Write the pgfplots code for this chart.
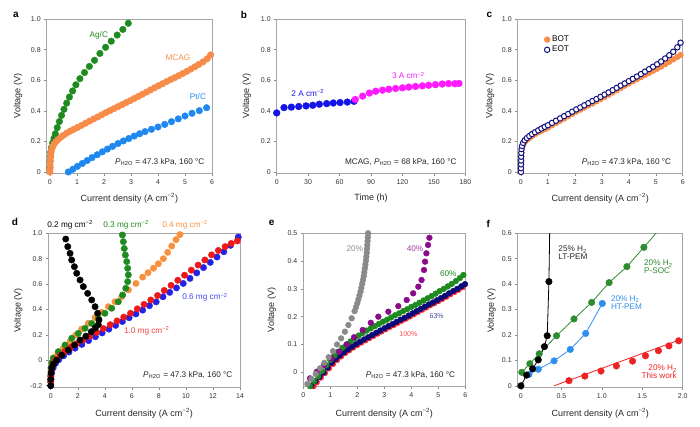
\documentclass[border=0pt]{standalone}
\usepackage{fontspec}
\setmainfont{Liberation Sans}
\usepackage{pgfplots}
\pgfplotsset{compat=1.18}

\definecolor{agc}{HTML}{1F8A1F}
\definecolor{mcag}{HTML}{F78C4A}
\definecolor{ptc}{HTML}{1E88F0}
\definecolor{bblue}{HTML}{1414E6}
\definecolor{bmag}{HTML}{FF1AFF}
\definecolor{cnavy}{HTML}{12127E}
\definecolor{dgreen}{HTML}{1F8A1F}
\definecolor{dorange}{HTML}{F7913D}
\definecolor{dblue}{HTML}{2222E8}
\definecolor{dred}{HTML}{EE1818}
\definecolor{egray}{HTML}{8A8A8A}
\definecolor{epurple}{HTML}{8A0A8A}
\definecolor{enavy}{HTML}{0A0A78}
\definecolor{ered}{HTML}{FF2A2A}
\definecolor{fgreen}{HTML}{2E8B2E}
\definecolor{fblue}{HTML}{2E8FF0}
\definecolor{fred}{HTML}{EE2222}

\newcommand{\cmm}{cm\textsuperscript{−2}}
\newcommand{\PH}{\textit{P}\textsubscript{H2O}}
\newcommand{\Ht}{H\textsubscript{2}}

\tikzset{ann/.style={font=\fontsize{8.2}{9}\selectfont}}
\pgfplotsset{
 panel/.style={
  scale only axis, anchor=south west,
  axis line style={draw=black!35, line width=0.5pt},
  major tick style={draw=black!45, line width=0.5pt},
  tick align=outside, major tick length=2.5pt,
  xtick pos=left, ytick pos=left,
  tick label style={font=\fontsize{7}{8}\selectfont, text=black!80},
  every axis label/.append style={font=\fontsize{9}{10}\selectfont, text=black!85},
  ylabel={Voltage (V)},
  xlabel={Current density (A \cmm)},
  clip mode=individual,
 },
 dots/.style={only marks, mark=*, mark size=#1, mark options={solid}},
}

\begin{document}
\begin{tikzpicture}
\path[use as bounding box] (0,0) rectangle (700pt,426pt);

% ---------------- panel a ----------------
\begin{axis}[panel, at={(46.7pt,252.7pt)}, width=165.3pt, height=154.3pt,
  xmin=-0.12, xmax=6, ymin=-0.0085, ymax=1.0,
  xtick={0,1,2,3,4,5,6}, xticklabels={0,1,2,3,4,5,6},
  ytick={0,0.2,0.4,0.6,0.8,1.0}, yticklabels={0,0.2,0.4,0.6,0.8,1.0},
  ylabel style={at={(axis description cs:-0.174,0.5)}, anchor=center},
  xlabel style={at={(axis description cs:0.5,-0.16)}, anchor=center}]
\addplot[dots=3.3pt, color=ptc] coordinates {
(0.68,0.0)(0.85,0.018)(1.02,0.037)(1.2,0.056)(1.38,0.075)(1.56,0.094)(1.75,0.113)(1.94,0.132)(2.13,0.15)(2.32,0.168)(2.52,0.186)(2.72,0.203)(2.92,0.219)(3.12,0.235)(3.32,0.25)(3.52,0.264)(3.76,0.279)(4.0,0.294)(4.25,0.311)(4.5,0.329)(4.75,0.347)(5.0,0.366)(5.26,0.384)(5.53,0.401)(5.8,0.42)};
\addplot[dots=3.3pt, color=agc] coordinates {
(0,0.03)(0.005,0.07)(0.015,0.1)(0.03,0.13)(0.06,0.16)(0.1,0.19)(0.15,0.22)(0.2,0.25)(0.27,0.29)(0.35,0.33)(0.43,0.37)(0.52,0.41)(0.62,0.45)(0.72,0.49)(0.84,0.53)(0.96,0.57)(1.11,0.61)(1.28,0.65)(1.46,0.69)(1.65,0.73)(1.85,0.775)(2.06,0.815)(2.27,0.855)(2.49,0.895)(2.7,0.932)(2.9,0.972)};
\addplot[dots=3.3pt, color=mcag] coordinates {
(0,0)(0,0.02)(0.005,0.045)(0.01,0.07)(0.02,0.095)(0.035,0.12)(0.06,0.145)(0.1,0.165)(0.15,0.182)(0.22,0.198)(0.3,0.212)(0.4,0.227)(0.5,0.24)(0.62,0.254)(0.75,0.267)(0.88,0.279)(1.02,0.291)(1.17,0.305)(1.32,0.319)(1.47,0.333)(1.62,0.347)(1.77,0.36)(1.92,0.374)(2.07,0.388)(2.22,0.401)(2.37,0.414)(2.52,0.427)(2.67,0.44)(2.82,0.453)(2.97,0.466)(3.12,0.48)(3.27,0.494)(3.42,0.508)(3.57,0.522)(3.72,0.536)(3.87,0.55)(4.02,0.564)(4.17,0.577)(4.32,0.591)(4.47,0.604)(4.62,0.617)(4.77,0.63)(4.92,0.644)(5.07,0.658)(5.22,0.673)(5.37,0.688)(5.52,0.704)(5.67,0.72)(5.82,0.74)(5.95,0.765)};
\node[ann, text=agc] at (axis cs:1.81,0.895) {Ag/C};
\node[ann, text=mcag] at (axis cs:4.74,0.75) {MCAG};
\node[ann, text=ptc] at (axis cs:5.48,0.49) {Pt/C};
\node[ann, text=black!85, anchor=east] at (axis cs:5.85,0.065) {\PH{} = 47.3 kPa, 160 °C};
\end{axis}

% ---------------- panel b ----------------
\begin{axis}[panel, at={(276.7pt,252.7pt)}, width=188.6pt, height=154.3pt,
  xmin=0, xmax=180, ymin=-0.0085, ymax=1.0,
  xlabel={Time (h)},
  xtick={0,30,60,90,120,150,180}, xticklabels={0,30,60,90,120,150,180},
  ytick={0,0.2,0.4,0.6,0.8,1.0}, yticklabels={0,0.2,0.4,0.6,0.8,1.0},
  ylabel style={at={(axis description cs:-0.159,0.5)}, anchor=center},
  xlabel style={at={(axis description cs:0.5,-0.16)}, anchor=center}]
\addplot[dots=3.4pt, color=bblue] coordinates {
(0,0.386)(7,0.421)(14,0.424)(21,0.428)(28,0.432)(34.4,0.436)(40.7,0.443)(47.7,0.447)(54,0.451)(60.5,0.454)(67.4,0.457)(73.8,0.462)};
\addplot[dots=3.4pt, color=bmag] coordinates {
(75,0.474)(82,0.496)(88.5,0.516)(94.5,0.528)(101,0.535)(107,0.541)(113.5,0.546)(120,0.55)(126,0.555)(132.5,0.559)(139,0.563)(145,0.567)(151.5,0.571)(158,0.575)(164,0.578)(170,0.577)(174,0.579)};
\node[ann, text=bblue] at (axis cs:29.6,0.514) {2 A \cmm};
\node[ann, text=bmag] at (axis cs:125.6,0.63) {3 A \cmm};
\node[ann, text=black!85, anchor=east] at (axis cs:175,0.067) {MCAG, \PH{} = 68 kPa, 160 °C};
\end{axis}

% ---------------- panel c ----------------
\begin{axis}[panel, at={(517.7pt,252.7pt)}, width=165pt, height=154.3pt,
  xmin=-0.12, xmax=6, ymin=-0.0085, ymax=1.0,
  xtick={0,1,2,3,4,5,6}, xticklabels={0,1,2,3,4,5,6},
  ytick={0,0.2,0.4,0.6,0.8,1.0}, yticklabels={0,0.2,0.4,0.6,0.8,1.0},
  ylabel style={at={(axis description cs:-0.168,0.5)}, anchor=center},
  xlabel style={at={(axis description cs:0.5,-0.16)}, anchor=center},
  legend style={at={(axis cs:0.82,0.91)}, anchor=north west, draw=none, fill=none,
    font=\fontsize{8.2}{9}\selectfont, row sep=-1pt, inner sep=1pt},
  legend image code/.code={\draw[mark repeat=2,mark phase=2,#1] plot coordinates {(0cm,0cm)(0.13cm,0cm)(0.26cm,0cm)};},
  legend cell align=left]
\addplot[dots=2.9pt, color=mcag] coordinates {
(0,0)(0,0.025)(0.003,0.05)(0.006,0.075)(0.01,0.1)(0.018,0.125)(0.03,0.15)(0.06,0.17)(0.1,0.185)(0.16,0.2)(0.24,0.213)(0.33,0.225)(0.43,0.237)(0.54,0.249)(0.65,0.26)(0.77,0.27)(0.88,0.28)
(1.0,0.290)(1.15,0.305)(1.3,0.320)(1.45,0.335)(1.6,0.349)(1.75,0.364)(1.9,0.379)(2.05,0.394)(2.2,0.407)(2.35,0.421)(2.5,0.435)(2.65,0.448)(2.8,0.462)(2.95,0.476)(3.1,0.490)(3.25,0.505)(3.4,0.520)(3.55,0.534)(3.7,0.549)(3.85,0.564)(4.0,0.579)(4.15,0.593)(4.3,0.606)(4.45,0.620)(4.6,0.634)(4.75,0.647)(4.9,0.661)(5.05,0.675)(5.2,0.689)(5.35,0.704)(5.5,0.720)(5.65,0.736)(5.8,0.752)(5.92,0.765)};
\addlegendentry{BOT}
\addplot[only marks, mark=*, mark size=2.7pt, mark options={solid, draw=cnavy, fill=white, line width=1pt}] coordinates {
(0,0)(0,0.025)(0.002,0.05)(0.005,0.075)(0.008,0.1)(0.013,0.125)(0.022,0.15)(0.04,0.17)(0.08,0.19)(0.14,0.207)(0.22,0.222)(0.31,0.235)(0.41,0.248)(0.52,0.26)(0.64,0.272)(0.76,0.284)(0.88,0.295)
(1.0,0.306)(1.15,0.321)(1.3,0.335)(1.45,0.350)(1.6,0.365)(1.75,0.379)(1.9,0.394)(2.05,0.409)(2.2,0.422)(2.35,0.436)(2.5,0.450)(2.65,0.464)(2.8,0.477)(2.95,0.491)(3.1,0.506)(3.25,0.520)(3.4,0.535)(3.55,0.550)(3.7,0.565)(3.85,0.579)(4.0,0.594)(4.15,0.609)(4.3,0.624)(4.45,0.640)(4.6,0.656)(4.75,0.672)(4.9,0.688)(5.05,0.704)(5.2,0.722)(5.35,0.742)(5.5,0.763)(5.65,0.786)(5.8,0.815)(5.92,0.845)};
\addlegendentry{EOT}
\node[ann, text=black!85, anchor=east] at (axis cs:5.7,0.065) {\PH{} = 47.3 kPa, 160 °C};
\end{axis}

% ---------------- panel d ----------------
\begin{axis}[panel, at={(48.3pt,38.7pt)}, width=191.7pt, height=154pt,
  xmin=-0.18, xmax=14, ymin=-0.213, ymax=1.0,
  xtick={0,2,4,6,8,10,12,14}, xticklabels={0,2,4,6,8,10,12,14},
  ytick={-0.2,0,0.2,0.4,0.6,0.8,1.0}, yticklabels={-0.2,0,0.2,0.4,0.6,0.8,1.0},
  ylabel style={at={(axis description cs:-0.156,0.5)}, anchor=center},
  xlabel style={at={(axis description cs:0.5,-0.167)}, anchor=center}]
\addplot[dots=3.2pt, color=dorange] coordinates {
(0,-0.15)(0.02,-0.08)(0.07,-0.02)(0.2,0.02)(0.52,0.05)(0.93,0.094)(1.43,0.146)(1.85,0.199)(2.29,0.246)(2.78,0.291)(3.28,0.336)(3.77,0.378)(4.26,0.422)(4.76,0.461)(5.25,0.501)(5.74,0.554)(6.3,0.605)(6.8,0.655)(7.2,0.69)(7.6,0.725)(7.96,0.76)(8.33,0.8)(8.65,0.85)(8.95,0.9)(9.27,0.95)(9.56,0.99)};
\addplot[dots=3.2pt, color=dgreen] coordinates {
(0,-0.17)(0,-0.12)(0.02,-0.06)(0.08,-0.02)(0.19,0.016)(0.56,0.068)(1.06,0.12)(1.55,0.173)(2.04,0.212)(2.54,0.252)(3.03,0.29)(3.52,0.33)(4.01,0.37)(4.51,0.41)(5.0,0.461)(5.32,0.514)(5.55,0.567)(5.69,0.619)(5.74,0.672)(5.69,0.724)(5.62,0.777)(5.52,0.829)(5.44,0.88)(5.37,0.934)(5.3,0.987)};
\addplot[dots=3.2pt, color=dblue] coordinates {
(0,-0.2)(0.02,-0.15)(0.07,-0.1)(0.18,-0.06)(0.35,-0.025)(0.6,0.005)(0.95,0.035)(1.35,0.065)(1.8,0.095)(2.3,0.125)(2.8,0.155)(3.3,0.185)(3.8,0.215)(4.3,0.245)(4.8,0.275)(5.3,0.305)(5.8,0.335)(6.3,0.365)(6.8,0.395)(7.3,0.43)(7.8,0.46)(8.3,0.5)(8.8,0.535)(9.3,0.57)(9.8,0.605)(10.3,0.645)(10.8,0.688)(11.3,0.73)(11.8,0.771)(12.3,0.813)(12.8,0.855)(13.3,0.905)(13.87,0.97)};
\addplot[dots=3.2pt, color=dred] coordinates {
(0,-0.17)(0.01,-0.13)(0.04,-0.09)(0.1,-0.055)(0.2,-0.025)(0.38,0.005)(0.7,0.04)(1.05,0.07)(1.45,0.1)(1.9,0.13)(2.4,0.16)(2.9,0.19)(3.4,0.22)(3.9,0.25)(4.4,0.28)(4.9,0.31)(5.4,0.34)(5.9,0.37)(6.4,0.405)(6.9,0.44)(7.4,0.475)(7.9,0.51)(8.4,0.55)(8.9,0.59)(9.4,0.63)(9.9,0.67)(10.4,0.71)(10.9,0.75)(11.4,0.79)(11.9,0.83)(12.4,0.865)(12.9,0.895)(13.35,0.92)(13.8,0.94)};
\addplot[dots=3.2pt, color=black] coordinates {
(0,-0.2)(0,-0.15)(0.02,-0.1)(0.08,-0.06)(0.2,-0.03)(0.44,0.0)(0.81,0.04)(1.3,0.08)(1.75,0.12)(2.17,0.16)(2.6,0.19)(3.0,0.225)(3.3,0.255)(3.52,0.28)(3.57,0.317)(3.47,0.37)(3.28,0.422)(3.03,0.475)(2.73,0.527)(2.41,0.58)(2.17,0.632)(1.92,0.685)(1.75,0.737)(1.55,0.79)(1.43,0.842)(1.26,0.895)(1.11,0.955)};
\node[ann, text=black] at (axis cs:1.43,1.065) {0.2 mg \cmm};
\node[ann, text=dgreen] at (axis cs:5.57,1.065) {0.3 mg \cmm};
\node[ann, text=dorange] at (axis cs:9.93,1.065) {0.4 mg \cmm};
\node[ann, text=dblue!85] at (axis cs:11.41,0.496) {0.6 mg \cmm};
\node[ann, text=dred!85] at (axis cs:7.1,0.233) {1.0 mg \cmm};
\node[ann, text=black!85, anchor=east] at (axis cs:13.7,-0.116) {\PH{} = 47.3 kPa, 160 °C};
\end{axis}

% ---------------- panel e ----------------
\begin{axis}[panel, at={(303.3pt,39.3pt)}, width=162pt, height=153.4pt,
  xmin=0, xmax=6, ymin=-0.052, ymax=0.5,
  xtick={0,1,2,3,4,5,6}, xticklabels={0,1,2,3,4,5,6},
  ytick={0,0.1,0.2,0.3,0.4,0.5}, yticklabels={0,0.1,0.2,0.3,0.4,0.5},
  ylabel style={at={(axis description cs:-0.195,0.5)}, anchor=center},
  xlabel style={at={(axis description cs:0.5,-0.171)}, anchor=center}]
\addplot[dots=2.9pt, color=ered] coordinates {
(0.38,-0.05)(0.5,-0.036)(0.65,-0.019)(0.8,-0.003)(0.95,0.014)(1.1,0.03)(1.25,0.044)(1.4,0.057)(1.55,0.069)(1.7,0.079)(1.85,0.089)(2.0,0.098)(2.15,0.107)(2.3,0.115)(2.45,0.123)(2.6,0.131)(2.75,0.139)(2.9,0.147)(3.05,0.155)(3.2,0.163)(3.35,0.17)(3.5,0.178)(3.65,0.186)(3.8,0.193)(3.95,0.201)(4.1,0.209)(4.25,0.217)(4.4,0.225)(4.55,0.233)(4.7,0.241)(4.85,0.248)(5.0,0.256)(5.15,0.264)(5.3,0.272)(5.45,0.281)(5.6,0.289)(5.75,0.297)(5.9,0.306)};
\addplot[dots=2.9pt, color=enavy] coordinates {
(0.3,-0.048)(0.45,-0.032)(0.6,-0.016)(0.75,-0.001)(0.9,0.017)(1.05,0.034)(1.2,0.048)(1.35,0.06)(1.5,0.072)(1.65,0.082)(1.8,0.092)(1.95,0.101)(2.1,0.11)(2.25,0.118)(2.4,0.126)(2.55,0.134)(2.7,0.142)(2.85,0.15)(3.0,0.158)(3.15,0.166)(3.3,0.173)(3.45,0.181)(3.6,0.189)(3.75,0.196)(3.9,0.204)(4.05,0.212)(4.2,0.22)(4.35,0.228)(4.5,0.236)(4.65,0.244)(4.8,0.251)(4.95,0.259)(5.1,0.267)(5.25,0.275)(5.4,0.284)(5.55,0.292)(5.7,0.3)(5.85,0.309)(5.99,0.317)};
\addplot[dots=2.9pt, color=agc] coordinates {
(0.25,-0.05)(0.4,-0.032)(0.55,-0.014)(0.7,0.005)(0.85,0.025)(1.0,0.044)(1.15,0.06)(1.3,0.074)(1.45,0.088)(1.6,0.1)(1.75,0.111)(1.9,0.122)(2.05,0.132)(2.2,0.141)(2.35,0.15)(2.5,0.158)(2.65,0.166)(2.8,0.174)(2.95,0.182)(3.1,0.189)(3.25,0.197)(3.4,0.205)(3.55,0.212)(3.7,0.22)(3.85,0.227)(4.0,0.235)(4.15,0.242)(4.3,0.25)(4.45,0.258)(4.6,0.266)(4.75,0.274)(4.9,0.283)(5.05,0.292)(5.2,0.3)(5.35,0.309)(5.5,0.318)(5.65,0.328)(5.8,0.339)(5.93,0.35)};
\addplot[dots=2.9pt, color=epurple] coordinates {
(0.25,-0.022)(0.5,0.002)(0.77,0.026)(1.05,0.05)(1.33,0.074)(1.61,0.1)(1.88,0.126)(2.2,0.152)(2.5,0.178)(2.78,0.2)(3.15,0.218)(3.52,0.238)(3.83,0.26)(4.07,0.284)(4.26,0.308)(4.38,0.332)(4.47,0.368)(4.51,0.398)(4.56,0.428)(4.62,0.458)(4.67,0.484)};
\addplot[dots=2.9pt, color=egray] coordinates {
(0.15,-0.042)(0.3,-0.024)(0.46,-0.006)(0.62,0.014)(0.78,0.034)(0.94,0.054)(1.1,0.076)(1.25,0.1)(1.4,0.122)(1.54,0.146)(1.67,0.17)(1.79,0.194)(1.9,0.22)(1.95,0.234)(2.0,0.248)(2.04,0.262)(2.08,0.276)(2.12,0.29)(2.15,0.304)(2.18,0.318)(2.21,0.332)(2.24,0.346)(2.26,0.36)(2.28,0.374)(2.3,0.388)(2.32,0.402)(2.335,0.416)(2.35,0.43)(2.36,0.444)(2.37,0.458)(2.38,0.472)(2.39,0.486)(2.4,0.5)};
\node[ann, text=egray] at (axis cs:1.91,0.446) {20\%};
\node[ann, text=epurple!80] at (axis cs:4.14,0.446) {40\%};
\node[ann, text=agc] at (axis cs:5.37,0.356) {60\%};
\node[ann, text=enavy!75, font=\fontsize{7}{8}\selectfont] at (axis cs:4.94,0.203) {63\%};
\node[ann, text=ered!85, font=\fontsize{7}{8}\selectfont] at (axis cs:3.89,0.138) {100\%};
\node[ann, text=black!85, anchor=east] at (axis cs:5.75,-0.01) {\PH{} = 47.3 kPa, 160 °C};
\end{axis}

% ---------------- panel f ----------------
\begin{axis}[panel, at={(517.7pt,38.7pt)}, width=165pt, height=154pt,
  xmin=-0.04, xmax=2.0, ymin=-0.006, ymax=0.6,
  xtick={0,0.5,1,1.5,2}, xticklabels={0,0.5,1.0,1.5,2.0},
  ytick={0,0.1,0.2,0.3,0.4,0.5,0.6}, yticklabels={0,0.1,0.2,0.3,0.4,0.5,0.6},
  ylabel style={at={(axis description cs:-0.158,0.5)}, anchor=center},
  xlabel style={at={(axis description cs:0.5,-0.167)}, anchor=center}]
% lines
\addplot[fred, line width=0.8pt, mark=none] coordinates {(0.41,0)(2.05,0.191)};
\addplot[fgreen, line width=0.8pt, mark=none] coordinates {
(0.01,0.053)(0.11,0.087)(0.226,0.126)(0.44,0.197)(0.656,0.263)(0.874,0.328)(1.09,0.406)(1.31,0.469)(1.52,0.545)(1.75,0.63)};
\addplot[fblue, line width=0.8pt, mark=none] coordinates {
(0.1,0.045)(0.214,0.065)(0.41,0.098)(0.61,0.143)(0.8,0.206)(1.006,0.324)};
\addplot[black, line width=0.8pt, mark=none] coordinates {
(0,0)(0.07,0.042)(0.144,0.067)(0.214,0.102)(0.29,0.154)(0.325,0.197)(0.346,0.41)(0.356,0.62)};
% markers
\addplot[dots=3.3pt, color=fred] coordinates {
(0.594,0.02)(0.79,0.038)(0.99,0.058)(1.18,0.078)(1.38,0.097)(1.54,0.118)(1.7,0.138)(1.83,0.157)(1.95,0.177)};
\addplot[dots=3.3pt, color=fgreen] coordinates {
(0.01,0.053)(0.11,0.087)(0.226,0.126)(0.44,0.197)(0.656,0.263)(0.874,0.328)(1.09,0.406)(1.31,0.469)(1.52,0.545)};
\addplot[dots=3.3pt, color=fblue] coordinates {
(0.1,0.045)(0.214,0.065)(0.41,0.098)(0.61,0.143)(0.8,0.206)(1.006,0.324)};
\addplot[dots=3.3pt, color=black] coordinates {
(0,0)(0.07,0.042)(0.144,0.067)(0.214,0.102)(0.29,0.154)(0.325,0.197)(0.346,0.41)};
\node[ann, text=black!85, anchor=west, align=left] at (axis cs:0.42,0.522) {25\% \Ht\\[-1pt]LT-PEM};
\node[ann, text=fgreen, anchor=west, align=left] at (axis cs:1.48,0.467) {20\% \Ht\\[-1pt]P-SOC};
\node[ann, text=fblue, anchor=west, align=left] at (axis cs:1.07,0.327) {20\% \Ht\\[-1pt]HT-PEM};
\node[ann, text=fred, anchor=east, align=right] at (axis cs:1.97,0.054) {20\% \Ht\\[-1pt]This work};
\end{axis}

% panel letters
\node[font=\bfseries\fontsize{10}{11}\selectfont] at (16pt,411pt) {a};
\node[font=\bfseries\fontsize{10}{11}\selectfont] at (244pt,411pt) {b};
\node[font=\bfseries\fontsize{10}{11}\selectfont] at (489.3pt,411pt) {c};
\node[font=\bfseries\fontsize{10}{11}\selectfont] at (15pt,204.3pt) {d};
\node[font=\bfseries\fontsize{10}{11}\selectfont] at (271.7pt,202.7pt) {e};
\node[font=\bfseries\fontsize{10}{11}\selectfont] at (488.3pt,202pt) {f};
\end{tikzpicture}
\end{document}
